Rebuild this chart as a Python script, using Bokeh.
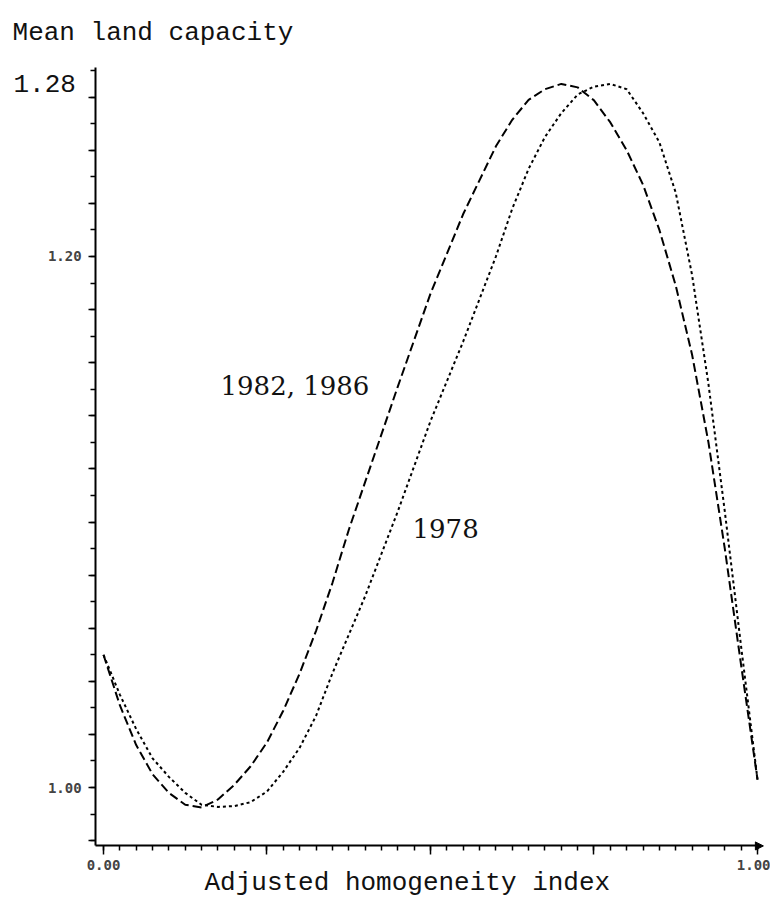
from bokeh.plotting import figure
from bokeh.models import FixedTicker, Range1d, Label, Arrow, NormalHead
from bokeh.embed import file_html
from bokeh.resources import INLINE

# ---- data ----
x_1982_1986 = [0.00, 0.025, 0.05, 0.075, 0.10, 0.125, 0.15, 0.175, 0.20, 0.225, 0.25, 0.275, 0.30,
               0.325, 0.35, 0.375, 0.40, 0.45, 0.50, 0.55, 0.60, 0.625, 0.65, 0.675, 0.70, 0.725,
               0.75, 0.775, 0.80, 0.825, 0.85, 0.875, 0.90, 0.925, 0.95, 0.975, 1.00]
y_1982_1986 = [1.050, 1.031, 1.016, 1.005, 0.998, 0.9935, 0.9925, 0.9955, 1.001, 1.008, 1.017, 1.029, 1.043,
               1.059, 1.077, 1.097, 1.115, 1.151, 1.186, 1.216, 1.2415, 1.2515, 1.259, 1.263, 1.265, 1.2637,
               1.2588, 1.2505, 1.240, 1.227, 1.210, 1.189, 1.163, 1.130, 1.090, 1.046, 1.003]

x_1978 = [0.00, 0.025, 0.05, 0.075, 0.10, 0.125, 0.15, 0.175, 0.20, 0.225, 0.25, 0.275, 0.30,
          0.325, 0.35, 0.40, 0.45, 0.50, 0.55, 0.60, 0.625, 0.65, 0.675, 0.70, 0.725,
          0.75, 0.775, 0.80, 0.825, 0.85, 0.875, 0.90, 0.925, 0.95, 0.975, 1.00]
y_1978 = [1.050, 1.035, 1.022, 1.011, 1.004, 0.998, 0.9935, 0.9927, 0.993, 0.9945, 0.9985, 1.006, 1.015,
          1.027, 1.043, 1.072, 1.104, 1.138, 1.168, 1.200, 1.218, 1.233, 1.245, 1.254, 1.261,
          1.264, 1.265, 1.263, 1.254, 1.243, 1.224, 1.193, 1.152, 1.104, 1.053, 1.003]

x_major_ticks = [0.0, 0.25, 0.5, 0.75, 1.0]
x_minor_ticks = [i * 0.025 for i in range(41)]
x_tick_labels = {0.0: "0.00", 0.25: "", 0.5: "", 0.75: "", 1.0: "1.00"}

y_major_ticks = [0.98, 1.00, 1.02, 1.04, 1.06, 1.08, 1.10, 1.12, 1.14, 1.16, 1.18, 1.20, 1.22, 1.24, 1.26]
y_minor_ticks = [0.98 + i * 0.01 for i in range(30)]
y_labelled = {1.00: "1.00", 1.20: "1.20"}

series_labels = ["1982, 1986", "1978"]
x_title = "Adjusted homogeneity index"
y_title = "Mean land capacity"
y_top_label = "1.28"

# ---- figure ----
p = figure(width=770, height=899, output_backend="svg", toolbar_location=None,
           x_range=Range1d(-0.15749, 1.01988), y_range=Range1d(0.95782, 1.29642),
           min_border=0, min_border_left=0, min_border_right=0,
           min_border_top=0, min_border_bottom=0)
p.outline_line_color = None
p.xgrid.visible = False
p.ygrid.visible = False
p.background_fill_color = "white"
p.border_fill_color = "white"

p.line(x_1982_1986, y_1982_1986, line_color="black", line_width=2, line_dash="9 4")
p.line(x_1978, y_1978, line_color="black", line_width=2, line_dash="3 3")

# axes (placed at fixed data locations so the texts around them can sit freely)
tick_font = "DejaVu Sans Mono"

xa = p.xaxis[0]
xa.fixed_location = 0.978
xa.bounds = (-0.012, 1.004)
xa.ticker = FixedTicker(ticks=x_major_ticks, minor_ticks=x_minor_ticks)
xa.major_label_overrides = {k: v for k, v in x_tick_labels.items()}
xa.axis_line_width = 2
xa.major_tick_out = 9
xa.major_tick_in = 0
xa.minor_tick_out = 5
xa.minor_tick_in = 0
xa.major_tick_line_width = 1.5
xa.minor_tick_line_width = 1.5
xa.major_label_text_font = tick_font
xa.major_label_text_font_style = "bold"
xa.major_label_text_font_size = "14px"
xa.major_label_standoff = 5

ya = p.yaxis[0]
ya.fixed_location = -0.012
ya.bounds = (0.978, 1.271)
ya.ticker = FixedTicker(ticks=y_major_ticks, minor_ticks=y_minor_ticks)
ya.major_label_overrides = {t: y_labelled.get(round(t, 2), "") for t in y_major_ticks}
ya.axis_line_width = 2
ya.major_tick_out = 7
ya.major_tick_in = 0
ya.minor_tick_out = 5
ya.minor_tick_in = 0
ya.major_tick_line_width = 1.5
ya.minor_tick_line_width = 1.5
ya.major_label_text_font = tick_font
ya.major_label_text_font_style = "bold"
ya.major_label_text_font_size = "14px"
ya.major_label_standoff = 7

# arrow at end of x axis
p.add_layout(Arrow(end=NormalHead(size=8, fill_color="black", line_color="black"),
                   x_start=1.0, y_start=0.978, x_end=1.009, y_end=0.978,
                   line_color="black", line_width=2))

mono = "Liberation Mono"
p.add_layout(Label(x=-0.1391, y=1.2840, text=y_title, text_font=mono, text_font_size="26px",
                   text_baseline="alphabetic", text_align="left", text_color="#111111"))
p.add_layout(Label(x=-0.1376, y=1.2652, text=y_top_label, text_font=mono, text_font_size="26px",
                   text_baseline="alphabetic", text_align="left", text_color="#111111"))
p.add_layout(Label(x=0.1544, y=0.96422, text=x_title, text_font=mono, text_font_size="26px",
                   text_baseline="alphabetic", text_align="left", text_color="#111111"))

serif = "DejaVu Serif"
p.add_layout(Label(x=0.1789, y=1.1514, text=series_labels[0], text_font=serif, text_font_size="26px",
                   text_baseline="alphabetic", text_align="left", text_color="#111111"))
p.add_layout(Label(x=0.4725, y=1.0976, text=series_labels[1], text_font=serif, text_font_size="26px",
                   text_baseline="alphabetic", text_align="left", text_color="#111111"))

open("out.html", "w").write(file_html(p, INLINE))
